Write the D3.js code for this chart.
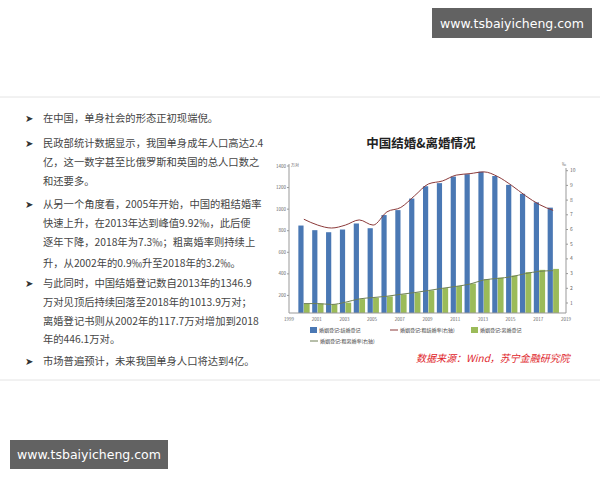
<!DOCTYPE html>
<html><head><meta charset="utf-8">
<script src="https://cdn.jsdelivr.net/npm/d3@7"></script>
<style>body{margin:0;background:#fff}svg{display:block}</style>
</head><body><svg id="c" width="600" height="480"></svg>
<script>
const years=d3.range(2000,2019);
const marriages=[848,805,786,811,867,823,945,991,1098,1212,1241,1302,1324,1347,1307,1225,1142,1063,1014];
const divorces=[121,125,118,133,166,179,191,210,227,247,268,287,310,350,364,384,416,437,446];
const marriageRate=[6.7,6.3,6.1,6.3,6.65,6.3,7.2,7.5,8.3,9.1,9.3,9.7,9.8,9.92,9.6,9.0,8.3,7.7,7.3];
const divorceRate=[0.96,0.96,0.9,1.05,1.28,1.37,1.46,1.59,1.71,1.85,2.0,2.13,2.29,2.57,2.67,2.79,3.0,3.15,3.2];
const xTicks=d3.range(1999,2020,2);
const leftTicks=[200,400,600,800,1000,1200,1400];
const rightTicks=d3.range(1,11);
const bullets=[
 ["在中国，单身社会的形态正初现端倪。"],
 ["民政部统计数据显示，我国单身成年人口高达2.4","亿，这一数字甚至比俄罗斯和英国的总人口数之","和还要多。"],
 ["从另一个角度看，2005年开始，中国的粗结婚率","快速上升，在2013年达到峰值9.92‰，此后便","逐年下降，2018年为7.3‰；粗离婚率则持续上","升，从2002年的0.9‰升至2018年的3.2‰。"],
 ["与此同时，中国结婚登记数自2013年的1346.9","万对见顶后持续回落至2018年的1013.9万对；","离婚登记书则从2002年的117.7万对增加到2018","年的446.1万对。"],
 ["市场普遍预计，未来我国单身人口将达到4亿。"]];
const lineY=[[118],[143,162,181],[204,223,242,263],[283,302,321,339],[361]];

const svg=d3.select("#c");
const F="'Noto Sans CJK SC',sans-serif";
svg.append("line").attr("x1",0).attr("x2",600).attr("y1",97).attr("y2",97).attr("stroke","#e4e4e4");
svg.append("line").attr("x1",0).attr("x2",600).attr("y1",380).attr("y2",380).attr("stroke","#e4e4e4");
bullets.forEach((b,i)=>{
  svg.append("text").attr("x",25).attr("y",lineY[i][0]+4).attr("font-size",9.5).attr("fill","#333").attr("font-family",F).text("➤");
  b.forEach((t,j)=>svg.append("text").attr("x",43).attr("y",lineY[i][j]+4).attr("font-size",10.3).attr("fill","#444").attr("font-family",F).text(t));
});
const x=d3.scaleLinear().domain([1999,2019]).range([289,566]);
const yL=d3.scaleLinear().domain([0,1400]).range([317,166]);
const yR=d3.scaleLinear().domain([0,10]).range([317.7,170.7]);
const bottom=313;
svg.append("text").attr("x",421).attr("y",148).attr("text-anchor","middle").attr("font-size",12.5).attr("font-weight","bold").attr("font-family",F).attr("fill","#222").text("中国结婚&离婚情况");
svg.append("g").selectAll("rect").data(years).join("rect").attr("x",d=>x(d)-4.5).attr("width",5.2)
 .attr("y",(d,i)=>yL(marriages[i])).attr("height",(d,i)=>bottom-yL(marriages[i])).attr("fill","#4a78b4");
svg.append("g").selectAll("rect").data(years).join("rect").attr("x",d=>x(d)+1).attr("width",5.8)
 .attr("y",(d,i)=>yL(divorces[i])).attr("height",(d,i)=>bottom-yL(divorces[i])).attr("fill","#9bbb59");
const ln=(arr)=>d3.line().x((d,i)=>x(years[i])+1).y(d=>yR(d)).curve(d3.curveMonotoneX)(arr);
svg.append("path").attr("d",ln(marriageRate)).attr("fill","none").attr("stroke","#8b3a3a").attr("stroke-width",1);
svg.append("path").attr("d",ln(divorceRate)).attr("fill","none").attr("stroke","#6e7f55").attr("stroke-width",1);
const ax=svg.append("g").attr("font-family",F).attr("fill","#666");
ax.append("line").attr("x1",289).attr("x2",566).attr("y1",bottom).attr("y2",bottom).attr("stroke","#999");
ax.append("line").attr("x1",289).attr("x2",289).attr("y1",164).attr("y2",bottom).attr("stroke","#999");
ax.append("line").attr("x1",566).attr("x2",566).attr("y1",168).attr("y2",bottom).attr("stroke","#999");
xTicks.forEach(t=>ax.append("text").attr("x",x(t)).attr("y",bottom+8).attr("text-anchor","middle").attr("font-size",4.5).text(t));
leftTicks.forEach(t=>{ax.append("text").attr("x",286).attr("y",yL(t)+1.5).attr("text-anchor","end").attr("font-size",4.5).text(t);
 ax.append("line").attr("x1",287).attr("x2",289).attr("y1",yL(t)).attr("y2",yL(t)).attr("stroke","#999");});
rightTicks.forEach(t=>{ax.append("text").attr("x",570).attr("y",yR(t)+1.5).attr("font-size",5).text(t);
 ax.append("line").attr("x1",566).attr("x2",568).attr("y1",yR(t)).attr("y2",yR(t)).attr("stroke","#999");});
ax.append("text").attr("x",291).attr("y",167).attr("font-size",4).text("万对");
ax.append("text").attr("x",562).attr("y",166).attr("font-size",4).text("‰");
const lg=svg.append("g").attr("font-family",F).attr("font-size",5).attr("fill","#444");
lg.append("rect").attr("x",310).attr("y",327).attr("width",7).attr("height",6).attr("fill","#4a78b4");
lg.append("text").attr("x",319).attr("y",332).text("婚姻登记:结婚登记");
lg.append("line").attr("x1",390).attr("x2",398).attr("y1",330).attr("y2",330).attr("stroke","#8b3a3a");
lg.append("text").attr("x",400).attr("y",332).text("婚姻登记:粗结婚率(右轴)");
lg.append("rect").attr("x",471).attr("y",327).attr("width",7).attr("height",6).attr("fill","#9bbb59");
lg.append("text").attr("x",480).attr("y",332).text("婚姻登记:离婚登记");
lg.append("line").attr("x1",310).attr("x2",318).attr("y1",341).attr("y2",341).attr("stroke","#6e7f55");
lg.append("text").attr("x",320).attr("y",343).text("婚姻登记:粗离婚率(右轴)");
svg.append("text").attr("x",416).attr("y",362).attr("font-size",10).attr("font-style","italic").attr("fill","#e0242a").attr("font-family",F).text("数据来源：Wind，苏宁金融研究院");
[[432,8,160,30],[10,440,158,29]].forEach(([a,b,w,h])=>{
 svg.append("rect").attr("x",a).attr("y",b).attr("width",w).attr("height",h).attr("fill","#555").attr("opacity",0.92);
 svg.append("text").attr("x",a+w/2).attr("y",b+h/2+4.5).attr("text-anchor","middle").attr("fill","#fff").attr("font-size",12.5).attr("font-family","'DejaVu Sans',sans-serif").text("www.tsbaiyicheng.com");
});
</script></body></html>
